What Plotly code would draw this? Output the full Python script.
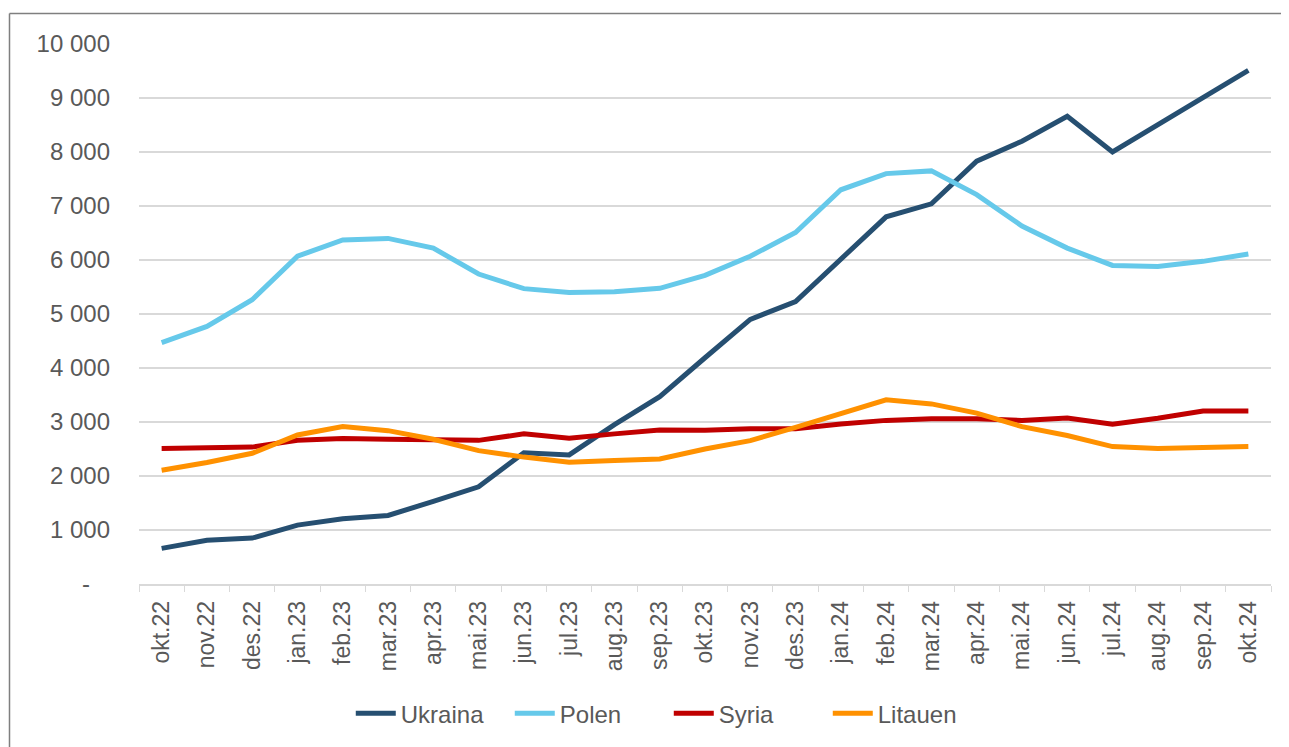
import plotly.graph_objects as go

months = ["okt.22", "nov.22", "des.22", "jan.23", "feb.23", "mar.23", "apr.23", "mai.23",
          "jun.23", "jul.23", "aug.23", "sep.23", "okt.23", "nov.23", "des.23", "jan.24",
          "feb.24", "mar.24", "apr.24", "mai.24", "jun.24", "jul.24", "aug.24", "sep.24", "okt.24"]

ukraina = [660, 810, 850, 1090, 1210, 1270, 1530, 1800, 2430, 2390, 2950, 3470, 4190, 4900,
           5230, 6000, 6800, 7040, 7830, 8200, 8660, 8000, 8510, 9010, 9510]
polen = [4470, 4770, 5265, 6070, 6370, 6400, 6220, 5740, 5470, 5400, 5410, 5475, 5715, 6070,
         6510, 7300, 7600, 7650, 7210, 6630, 6220, 5900, 5880, 5975, 6110]
syria = [2510, 2530, 2535, 2660, 2695, 2680, 2680, 2660, 2780, 2700, 2780, 2850, 2845, 2875,
         2875, 2965, 3030, 3060, 3060, 3030, 3075, 2960, 3070, 3205, 3205]
litauen = [2105, 2250, 2420, 2760, 2915, 2840, 2680, 2470, 2350, 2255, 2285, 2315, 2500, 2655,
           2900, 3165, 3410, 3335, 3165, 2915, 2750, 2545, 2510, 2530, 2545]

series = [("Ukraina", ukraina, "#264F71"), ("Polen", polen, "#66C9EA"),
          ("Syria", syria, "#C00000"), ("Litauen", litauen, "#FF9100")]

y_ticks = [0, 1000, 2000, 3000, 4000, 5000, 6000, 7000, 8000, 9000, 10000]
y_labels = ["-\u00a0\u00a0\u00a0", "1 000", "2 000", "3 000", "4 000", "5 000", "6 000",
            "7 000", "8 000", "9 000", "10 000"]

fig = go.Figure()
for name, vals, color in series:
    fig.add_trace(go.Scatter(x=months, y=vals, name=name, mode="lines",
                             line=dict(color=color, width=5)))

font_fam = "Liberation Sans, Arial, sans-serif"
frame = dict(color="#7f7f7f", width=1.5)
fig.update_layout(
    width=1281, height=739,
    margin=dict(l=131, r=18, t=36, b=163, autoexpand=False),
    paper_bgcolor="white", plot_bgcolor="white",
    font=dict(family=font_fam, color="#595959"),
    showlegend=True,
    legend=dict(orientation="h", x=0.468, xanchor="center", y=-0.240, yanchor="middle",
                font=dict(size=24, color="#595959"), itemwidth=40, entrywidth=104),
    xaxis=dict(type="category", showgrid=False, showline=True, linecolor="#d9d9d9",
               linewidth=1.5, ticks="outside", tickson="boundaries", ticklen=6,
               tickcolor="#d9d9d9", tickangle=-90, tickfont=dict(size=23, color="#595959"),
               ticklabelstandoff=6, range=[-0.5, 24.5], automargin=False),
    yaxis=dict(range=[0, 10000], tickvals=y_ticks, ticktext=y_labels, showgrid=True,
               gridcolor="#d9d9d9", gridwidth=1.5, zeroline=False, showline=False,
               tickfont=dict(size=24, color="#595959"), ticklabelstandoff=28,
               automargin=False),
    shapes=[
        dict(type="line", xref="paper", yref="paper", x0=-0.1144, x1=1.06,
             y0=1.0565, y1=1.0565, line=frame, layer="below"),
        dict(type="line", xref="paper", yref="paper", x0=-0.1144, x1=-0.1144,
             y0=-0.35, y1=1.0565, line=frame, layer="below"),
    ],
)

fig.write_html("out.html")
